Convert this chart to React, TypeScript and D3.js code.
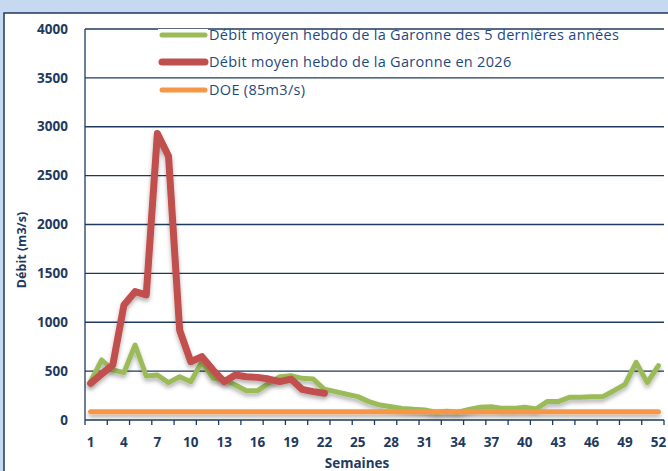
import React from 'react';
import * as d3 from 'd3';

const weeks = d3.range(1, 53);
const moyenne5ans = [392, 614, 511, 484, 767, 450, 460, 382, 443, 392, 596, 426, 409, 358, 300, 300, 375, 443, 453, 426, 419, 314, 290,
  263, 239, 188, 153, 136, 119, 109, 102, 80, 90, 80, 109, 130, 136, 119, 119, 130, 112, 188, 188, 232, 232, 239, 239, 300, 365, 590, 382, 556];
const debit2026 = [375, 470, 563, 1177, 1313, 1279, 2930, 2700, 920, 596, 648, 511, 392, 460, 443, 436, 419, 392, 419, 314, 290, 273];
const doe = weeks.map(() => 85);
const yTicks = [0, 500, 1000, 1500, 2000, 2500, 3000, 3500, 4000];
const legendLabels = [
  'Débit moyen hebdo de la Garonne des 5 dernières années',
  'Débit moyen hebdo de la Garonne en 2026',
  'DOE (85m3/s)',
];

const W = 668;
const H = 471;
const plot = { left: 85, right: 664, top: 29, bottom: 420 };
const navy = '#1f3a5f';
const textBlue = '#1f497d';
const font = '"Open Sans", Lato, sans-serif';

export default function App() {
  const x = d3.scaleBand<number>().domain(weeks).range([plot.left, plot.right]);
  const cx = (w: number) => x(w)! + x.bandwidth() / 2;
  const y = d3.scaleLinear().domain([0, 4000]).range([plot.bottom, plot.top]);
  const line = d3.line<number>().x((_, i) => cx(i + 1)).y(d => y(d));

  const series = [
    { values: moyenne5ans, color: '#9bbb59', width: 5 },
    { values: debit2026, color: '#c0504d', width: 7 },
    { values: doe, color: '#f79646', width: 5 },
  ];
  const legendY = [35, 62, 90];

  return (
    <svg width={W} height={H} style={{ position: 'absolute', left: 0, top: 0, fontFamily: font }}>
      <defs>
        <filter id="shadow" filterUnits="userSpaceOnUse" x={0} y={0} width={W} height={H}>
          <feDropShadow dx="0" dy="3" stdDeviation="2" floodColor="#000" floodOpacity="0.3" />
        </filter>
      </defs>
      <rect x={0} y={0} width={W} height={H} fill="#c6d9f1" />
      <rect x={4} y={13} width={W + 10} height={H + 10} fill="#fff" stroke={navy} strokeWidth={1.5} />

      {yTicks.map(t => (
        <g key={t}>
          {t > 0 && <line x1={plot.left} x2={plot.right} y1={y(t)} y2={y(t)} stroke={navy} strokeWidth={1.3} />}
          <text x={68} y={y(t)} dy="0.35em" textAnchor="end" fontWeight="bold" fontSize={13.5} fill={navy}>{t}</text>
        </g>
      ))}
      <line x1={plot.left} x2={plot.left} y1={plot.top} y2={plot.bottom} stroke={navy} strokeWidth={1.3} />
      <line x1={plot.left} x2={plot.right} y1={plot.bottom} y2={plot.bottom} stroke={navy} strokeWidth={1.3} />
      {weeks.filter(w => w % 2 === 1).map(w => (
        <line key={w} x1={x(w)} x2={x(w)} y1={plot.bottom} y2={plot.bottom + 5} stroke={navy} strokeWidth={1.3} />
      ))}
      <line x1={plot.right} x2={plot.right} y1={plot.bottom} y2={plot.bottom + 5} stroke={navy} strokeWidth={1.3} />
      {weeks.filter(w => (w - 1) % 3 === 0).map(w => (
        <text key={w} x={cx(w)} y={442} dy="0.35em" textAnchor="middle" fontWeight="bold" fontSize={13.5} fill={navy}>{w}</text>
      ))}
      <text x={357} y={468} textAnchor="middle" fontWeight="bold" fontSize={13.5} fill={navy}>Semaines</text>
      <text transform="translate(22,250) rotate(-90)" textAnchor="middle" dy="0.35em" fontWeight="bold" fontSize={12.5} fill={navy}>Débit (m3/s)</text>

      {series.map((s, i) => (
        <path key={i} d={line(s.values) || ''} fill="none" stroke={s.color} strokeWidth={s.width}
          strokeLinejoin="round" strokeLinecap="round" filter="url(#shadow)" />
      ))}

      {series.map((s, i) => (
        <g key={i}>
          <rect x={158} y={legendY[i] - 6} width={50} height={12} fill="#fff" />
          <line x1={162} x2={205} y1={legendY[i]} y2={legendY[i]} stroke={s.color} strokeWidth={s.width} strokeLinecap="round" />
          <text x={209} y={legendY[i]} dy="0.35em" fontSize={14.5} letterSpacing={0.3} fill={textBlue}>{legendLabels[i]}</text>
        </g>
      ))}
    </svg>
  );
}
